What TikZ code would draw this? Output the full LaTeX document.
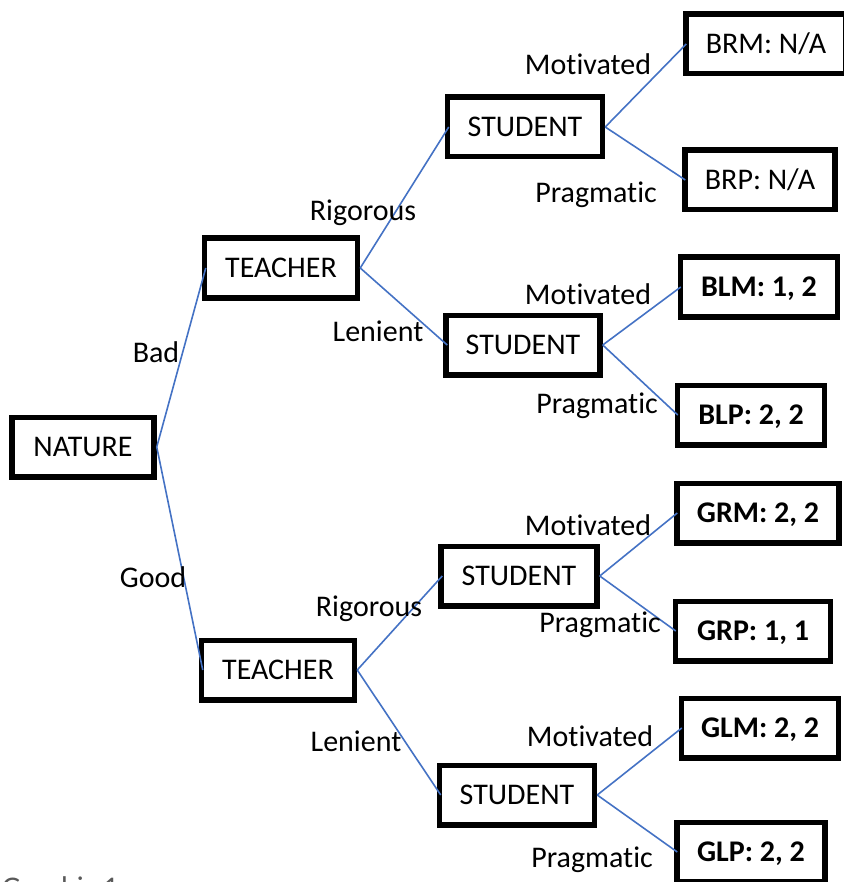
\documentclass[tikz,border=0pt]{standalone}
\usepackage{fontspec}
\setmainfont{Carlito}[Ligatures=CommonOff]
\usetikzlibrary{positioning}

\definecolor{edgeblue}{RGB}{68,114,196}
\definecolor{capgray}{RGB}{89,89,89}

\begin{document}
\begin{tikzpicture}[x=1pt,y=-1pt,
    every node/.style={font=\fontsize{30}{36}\selectfont, inner sep=0pt, text height=19pt, text depth=0pt},
    box/.style={draw, line width=5.5pt, fill=white, minimum width=153pt, minimum height=59.5pt},
    leaf/.style={box, font=\fontsize{30}{36}\selectfont\bfseries},
    branch/.style={draw=edgeblue, line width=1.6pt}]
\useasboundingbox (0,0) rectangle (843,882);

% decision nodes
\node [box, minimum width=142pt] (nature) at (83,447) {NATURE};
\node [box] (teachB) at (281,268) {TEACHER};
\node [box] (teachG) at (278,670) {TEACHER};
\node [box, minimum width=155pt] (studBR) at (525,127) {STUDENT};
\node [box, minimum width=154pt] (studBL) at (523,345) {STUDENT};
\node [box, minimum width=156pt] (studGR) at (519,576) {STUDENT};
\node [box, minimum width=155pt] (studGL) at (517,795) {STUDENT};

% outcomes
\node [box, minimum width=160pt] (brm) at (766,44) {BRM: N/A};
\node [box, minimum width=150pt] (brp) at (760,180) {BRP: N/A};
\node [leaf, minimum width=157pt] (blm) at (759,287) {BLM: 1, 2};
\node [leaf, minimum width=147pt] (blp) at (751,415) {BLP: 2, 2};
\node [leaf, minimum width=162pt] (grm) at (758,513) {GRM: 2, 2};
\node [leaf, minimum width=155pt] (grp) at (753,631) {GRP: 1, 1};
\node [leaf, minimum width=157pt] (glm) at (760,728) {GLM: 2, 2};
\node [leaf, minimum width=148pt] (glp) at (751,852) {GLP: 2, 2};

% branches
\draw [branch] (nature.east) -- ([xshift=4pt]teachB.west);
\draw [branch] (nature.east) -- ([xshift=4pt]teachG.west);
\draw [branch] (teachB.east) -- ([xshift=4pt]studBR.west);
\draw [branch] (teachB.east) -- ([xshift=4pt]studBL.west);
\draw [branch] (teachG.east) -- ([xshift=4pt]studGR.west);
\draw [branch] (teachG.east) -- ([xshift=4pt]studGL.west);
\draw [branch] (studBR.east) -- ([xshift=3pt]brm.west);
\draw [branch] (studBR.east) -- ([xshift=3pt]brp.west);
\draw [branch] (studBL.east) -- ([xshift=3pt]blm.west);
\draw [branch] (studBL.east) -- ([xshift=3pt]blp.west);
\draw [branch] (studGR.east) -- ([xshift=3pt]grm.west);
\draw [branch] (studGR.east) -- ([xshift=3pt]grp.west);
\draw [branch] (studGL.east) -- ([xshift=3pt]glm.west);
\draw [branch] (studGL.east) -- ([xshift=3pt]glp.west);

% branch labels
\node (lblBad) at (156,353) {Bad};
\node (lblGood) at (153,578) {Good};
\node (lblRigB) at (363,211) {Rigorous};
\node (lblLenB) at (378,332) {Lenient};
\node (lblRigG) at (369,607) {Rigorous};
\node (lblLenG) at (356,742) {Lenient};
\node (lblMotBR) at (588,65) {Motivated};
\node (lblPraBR) at (596,193) {Pragmatic};
\node (lblMotBL) at (588,295) {Motivated};
\node (lblPraBL) at (597,404) {Pragmatic};
\node (lblMotGR) at (588,526) {Motivated};
\node (lblPraGR) at (600,623) {Pragmatic};
\node (lblMotGL) at (590,737) {Motivated};
\node (lblPraGL) at (592,858) {Pragmatic};

\node [anchor=north west, text=capgray] (caption) at (2,878) {Graphic 1};
\end{tikzpicture}
\end{document}
